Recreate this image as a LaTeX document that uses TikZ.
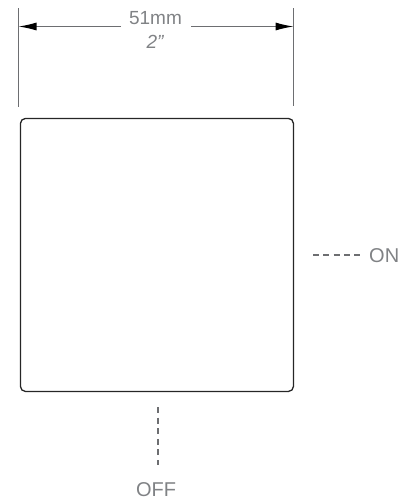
\documentclass[tikz,border=0pt]{standalone}
\usepackage{fontspec}
\setmainfont{Liberation Sans}
\usetikzlibrary{arrows.meta}
\definecolor{lbl}{HTML}{808285}
\definecolor{dim}{HTML}{6D6E71}
\tikzset{
  x=1pt,y=-1pt,
  lab/.style={text=lbl,font=\fontsize{19}{22}\selectfont,inner sep=0pt,anchor=base},
  labb/.style={lab,font=\fontsize{20}{22}\selectfont},
  dimline/.style={draw=dim,line width=1.2pt},
  arrowline/.style={draw=dim,line width=1.2pt,-{Latex[black,length=18pt,width=8pt]}},
  dashline/.style={draw=dim,line width=1.4pt},
  panel/.style={draw=black!85,line width=1.3pt,rounded corners=5pt}
}
\begin{document}
\begin{tikzpicture}
\useasboundingbox (0,0) rectangle (415,499);
\node[panel,minimum width=273pt,minimum height=273pt,inner sep=0pt,anchor=north west] (sq) at (19.8,117.8) {};
\coordinate (lt) at (18.5,8);
\coordinate (lb) at (18.5,106.5);
\coordinate (rt) at (293.6,8);
\coordinate (rb) at (293.6,105.5);
\draw[dimline] (lt) -- (lb);
\draw[dimline] (rt) -- (rb);
\coordinate (al) at (18.5,26.5);
\coordinate (ar) at (293.6,26.5);
\coordinate (gl) at (121,26.5);
\coordinate (gr) at (191,26.5);
\draw[arrowline] (gl) -- (al);
\draw[arrowline] (gr) -- (ar);
\node[lab] (mm) at (155.5,24) {51mm};
\node[lab] (inch) at (155,48) {\itshape 2”};
\node[labb,anchor=base west] (on) at (369,262) {ON};
\node[labb] (off) at (156,496) {OFF};
\coordinate (ons) at (313,255);
\coordinate (one) at (362,255);
\coordinate (offs) at (158,407);
\coordinate (offe) at (158,465);
\draw[dashline,dash pattern=on 6pt off 4.3pt] (ons) -- (one);
\draw[dashline,dash pattern=on 6pt off 4.6pt] (offs) -- (offe);
\end{tikzpicture}
\end{document}
